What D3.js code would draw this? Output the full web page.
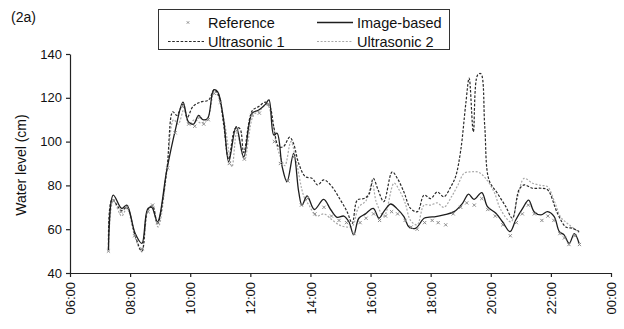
<!DOCTYPE html>
<html lang="en">
<head>
    <meta charset="UTF-8">
    <title>Water level (2a)</title>
    <script src="https://d3js.org/d3.v7.min.js"></script>
    <style>
        body {
            margin: 0;
            background: #fff;
        }

        svg text {
            font-family: "Liberation Sans", Arial, sans-serif;
            fill: #111;
        }

        .axis path,
        .axis line {
            stroke: #222;
            stroke-width: 1.2px;
        }

        .series {
            fill: none;
        }
    </style>
</head>
<body>
    <svg id="chart" width="624" height="329"></svg>

    <script>
        // Times are hours of the day, values water level in cm
        const imageTimes = [7.28, 7.44, 7.72, 7.89, 8.17, 8.39, 8.58, 8.72, 8.91, 9.22, 9.5, 9.76, 9.94, 10.11, 10.28, 10.42, 10.58, 10.78, 10.91, 11.11, 11.28, 11.53, 11.78, 12.06, 12.28, 12.5, 12.62, 12.78, 12.89, 13.06, 13.22, 13.44, 13.61, 13.72, 13.89, 14.13, 14.44, 14.67, 14.89, 15.11, 15.28, 15.44, 15.61, 15.83, 16.09, 16.28, 16.44, 16.67, 16.87, 17.11, 17.28, 17.5, 17.78, 17.95, 18.17, 18.44, 18.78, 19.06, 19.26, 19.44, 19.7, 19.89, 20.17, 20.39, 20.64, 20.83, 21.06, 21.26, 21.44, 21.67, 21.89, 22.11, 22.28, 22.44, 22.61, 22.78, 22.94];
        const imageValues = [50.5, 75.6, 69.5, 71, 58, 53.5, 69, 70, 63.4, 87, 105, 118, 109, 108, 112, 110, 110.6, 123.6, 122.8, 110, 90.8, 106.8, 93, 113, 114.4, 117, 119, 103, 103.8, 88.5, 81.7, 94.6, 77, 71, 75.2, 69, 73.6, 69, 65.4, 66, 63.4, 57.4, 65, 67, 69.5, 65, 68, 71.5, 69.5, 65.7, 61, 60.4, 65, 65.5, 65.7, 66.5, 68, 71.8, 76, 73.6, 76.7, 70.3, 67.3, 63.4, 58.9, 64.2, 69.5, 73.3, 68, 66.5, 68, 65.7, 58.9, 57.4, 53.5, 58, 53.5];

        const us1Times = [7.28, 7.4, 7.72, 7.89, 8.17, 8.39, 8.6, 8.75, 8.91, 9.22, 9.42, 9.55, 9.76, 9.9, 10.09, 10.33, 10.61, 10.8, 10.95, 11.11, 11.28, 11.5, 11.65, 11.78, 12.06, 12.28, 12.5, 12.65, 12.78, 12.94, 13.1, 13.31, 13.44, 13.61, 13.83, 14.06, 14.24, 14.44, 14.67, 15.0, 15.22, 15.39, 15.56, 15.78, 15.95, 16.09, 16.25, 16.44, 16.72, 16.9, 17.11, 17.33, 17.56, 17.78, 18.0, 18.22, 18.44, 18.67, 18.83, 19.0, 19.17, 19.28, 19.42, 19.56, 19.67, 19.8, 19.94, 20.22, 20.5, 20.72, 20.94, 21.11, 21.39, 21.67, 21.89, 22.22, 22.5, 22.72, 22.94];
        const us1Values = [51, 73.5, 68.5, 70, 57, 50, 69.5, 70.5, 62.5, 87, 113.6, 112, 117, 111, 116, 118, 119, 123.6, 121, 108, 92, 106, 106, 95, 114, 116, 118, 116, 106.8, 97.7, 97.7, 102, 99, 90, 84, 83.2, 80.2, 82.5, 80.2, 73.3, 68, 62.7, 73.3, 74, 76, 83.2, 78, 72.6, 86.2, 83, 77, 69.5, 68, 75.6, 74, 77, 74.8, 79.4, 84, 96, 117.5, 129, 104.5, 130.4, 131, 106.8, 82.5, 76.4, 70.3, 65, 78, 80.2, 78.7, 78.7, 78, 67.2, 61, 60.4, 58.9];

        const us2Times = [7.28, 7.44, 7.72, 7.89, 8.17, 8.39, 8.58, 8.72, 8.93, 9.22, 9.45, 9.6, 9.8, 9.95, 10.15, 10.35, 10.58, 10.8, 10.95, 11.15, 11.39, 11.55, 11.8, 12.1, 12.3, 12.55, 12.7, 12.85, 13.0, 13.15, 13.35, 13.5, 13.78, 13.95, 14.2, 14.45, 14.7, 14.95, 15.2, 15.4, 15.6, 15.85, 16.05, 16.2, 16.45, 16.78, 16.95, 17.15, 17.33, 17.55, 17.78, 18.0, 18.22, 18.44, 18.7, 18.9, 19.11, 19.35, 19.6, 19.83, 20.11, 20.33, 20.67, 20.9, 21.11, 21.39, 21.67, 21.89, 22.11, 22.33, 22.61, 22.94];
        const us2Values = [50.5, 73, 66, 69.5, 56, 49.6, 68, 71, 61, 86, 110, 108, 115, 108, 110, 108.5, 110.5, 123, 120, 108, 88.5, 104, 92, 112, 114, 117, 112, 100, 93, 89, 100, 93, 75, 71, 66, 67, 64.5, 62, 61, 61.5, 70, 73, 81, 72, 66, 81, 78, 72, 64, 62, 71, 71, 72, 70, 75, 80, 85.5, 86.2, 86, 83.2, 77, 69, 63.4, 75, 83.2, 81, 80, 79.4, 73, 65.5, 62, 58.5];

        const refTimes = [7.28, 7.45, 7.7, 7.9, 8.15, 8.4, 8.6, 8.75, 8.92, 9.25, 9.5, 9.75, 9.95, 10.15, 10.3, 10.45, 10.6, 10.8, 11.0, 11.3, 11.55, 11.8, 12.05, 12.3, 12.6, 12.8, 13.0, 13.25, 13.45, 13.7, 13.9, 14.15, 14.45, 14.7, 14.95, 15.2, 15.45, 15.65, 15.85, 16.1, 16.3, 16.5, 16.7, 16.9, 17.15, 17.35, 17.55, 17.8, 18.05, 18.25, 18.5, 18.75, 19.0, 19.2, 19.45, 19.7, 19.9, 20.15, 20.4, 20.65, 20.85, 21.05, 21.25, 21.45, 21.7, 21.9, 22.1, 22.3, 22.45, 22.6, 22.8, 22.95];
        const refValues = [50, 73, 68, 70, 57, 51, 68, 71, 63, 88, 104, 116, 108, 107, 111, 108, 110, 122, 118, 90, 105, 92, 112, 113, 117, 100, 90, 82, 93, 71, 74, 67, 70, 66, 64, 63, 58, 63, 65, 67, 64, 66, 68, 67, 64, 61, 60, 63, 64, 63, 62, 67, 70, 72, 71, 74, 69, 66, 62, 57, 63, 67, 71, 67, 64, 66, 64, 58, 56, 53, 57, 53];

        const xTicks = [6, 8, 10, 12, 14, 16, 18, 20, 22, 24];
        const yTicks = [40, 60, 80, 100, 120, 140];

        const zip = (ts, vs) => ts.map((t, i) => ({ t: t, v: vs[i] }));

        const svg = d3.select("#chart");

        const x = d3.scaleLinear().domain([6, 24]).range([70, 611]);
        const y = d3.scaleLinear().domain([40, 140]).range([273, 54]);

        // Axes
        const xAxis = svg
            .append("g")
            .attr("class", "axis")
            .attr("transform", "translate(0,273)")
            .call(
                d3
                    .axisBottom(x)
                    .tickValues(xTicks)
                    .tickSize(4)
                    .tickSizeOuter(0)
                    .tickFormat((h) => String(h % 24).padStart(2, "0") + ":00")
            );

        xAxis
            .selectAll("text")
            .attr("transform", "rotate(-90)")
            .attr("x", -9)
            .attr("y", 0)
            .attr("dy", "0.35em")
            .style("text-anchor", "end")
            .style("font-size", "13px");

        svg
            .append("g")
            .attr("class", "axis")
            .attr("transform", "translate(70,0)")
            .call(d3.axisLeft(y).tickValues(yTicks).tickSize(4).tickSizeOuter(0))
            .selectAll("text")
            .attr("x", -8)
            .style("font-size", "13px");

        svg.selectAll(".axis .domain").attr("stroke", "#222");

        // Y axis title
        svg
            .append("text")
            .attr("transform", "translate(26,165) rotate(-90)")
            .style("text-anchor", "middle")
            .style("font-size", "14px")
            .text("Water level (cm)");

        // Panel label
        svg
            .append("text")
            .attr("x", 11)
            .attr("y", 22)
            .style("font-size", "14px")
            .text("(2a)");

        const line = d3
            .line()
            .x((d) => x(d.t))
            .y((d) => y(d.v))
            .curve(d3.curveCatmullRom.alpha(0.5));

        // Series, light one underneath
        const series = [
            { name: "Ultrasonic 2", data: zip(us2Times, us2Values), color: "#a8a8a8", width: 1.2, dash: "2,1.6" },
            { name: "Ultrasonic 1", data: zip(us1Times, us1Values), color: "#2a2a2a", width: 1.2, dash: "2.6,1.6" },
            { name: "Image-based", data: zip(imageTimes, imageValues), color: "#1e1e1e", width: 1.3, dash: null },
        ];

        svg
            .selectAll(".series")
            .data(series)
            .enter()
            .append("path")
            .attr("class", "series")
            .attr("d", (d) => line(d.data))
            .attr("stroke", (d) => d.color)
            .attr("stroke-width", (d) => d.width)
            .attr("stroke-dasharray", (d) => d.dash);

        // Reference markers as small crosses
        const cross = (g, s) =>
            g
                .append("path")
                .attr("d", `M${-s},${-s}L${s},${s}M${-s},${s}L${s},${-s}`)
                .attr("stroke", "#8a8a8a")
                .attr("stroke-width", 1);

        svg
            .selectAll(".ref")
            .data(zip(refTimes, refValues))
            .enter()
            .append("g")
            .attr("class", "ref")
            .attr("transform", (d) => `translate(${x(d.t)},${y(d.v)})`)
            .call(cross, 1.6);

        // Legend
        const legend = svg.append("g");

        legend
            .append("rect")
            .attr("x", 158.5)
            .attr("y", 9.5)
            .attr("width", 291)
            .attr("height", 40)
            .attr("fill", "#fff")
            .attr("stroke", "#333")
            .attr("stroke-width", 1);

        const legendItems = [
            { name: "Reference", x: 168, y: 22.5, sym: "ref" },
            { name: "Image-based", x: 317, y: 22.5, sym: series[2] },
            { name: "Ultrasonic 1", x: 168, y: 41.5, sym: series[1] },
            { name: "Ultrasonic 2", x: 317, y: 41.5, sym: series[0] },
        ];

        legendItems.forEach((d) => {
            if (d.sym === "ref") {
                legend
                    .append("g")
                    .attr("transform", `translate(${d.x + 20},${d.y})`)
                    .call(cross, 1.2);
            } else {
                legend
                    .append("line")
                    .attr("x1", d.x)
                    .attr("x2", d.x + 36)
                    .attr("y1", d.y)
                    .attr("y2", d.y)
                    .attr("stroke", d.sym.color)
                    .attr("stroke-width", d.sym.width)
                    .attr("stroke-dasharray", d.sym.dash);
            }
            legend
                .append("text")
                .attr("x", d.x + 40)
                .attr("y", d.y + 5)
                .style("font-size", "14.5px")
                .text(d.name);
        });
    </script>
</body>
</html>
